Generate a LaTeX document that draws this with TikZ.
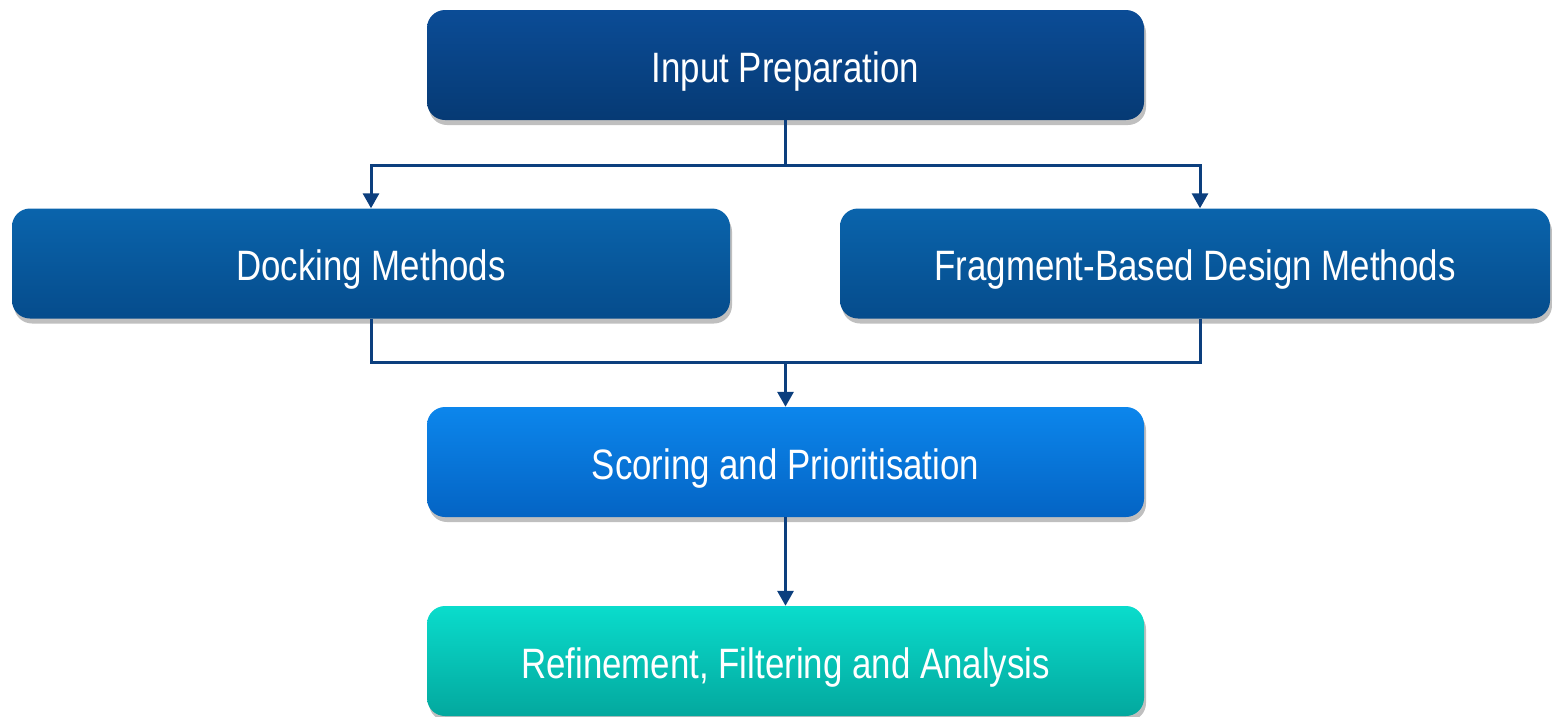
\documentclass[tikz,border=0pt]{standalone}
\usepackage{fontspec}
\setmainfont{Liberation Sans}[FakeStretch=0.82]
\usepackage{tikz}
\usetikzlibrary{calc}
\usetikzlibrary{arrows.meta}
\usetikzlibrary{shadows}

\definecolor{navytop}{HTML}{0B4C96}
\definecolor{navybot}{HTML}{063A74}
\definecolor{midtop}{HTML}{0A64AC}
\definecolor{midbot}{HTML}{054C8C}
\definecolor{skytop}{HTML}{0C86EC}
\definecolor{skybot}{HTML}{0464C4}
\definecolor{tealtop}{HTML}{0ADCCC}
\definecolor{tealbot}{HTML}{03A89E}
\definecolor{linkcol}{HTML}{0C3F7E}

\begin{document}
\begin{tikzpicture}[x=1pt,y=1pt]
    \tikzset{stage/.style={rounded corners=18pt, minimum height=110pt, text=white,
        font=\fontsize{42.5}{46}\selectfont, inner sep=0pt, text height=34pt, text depth=0pt,
        drop shadow={shadow xshift=2pt, shadow yshift=-5pt, opacity=0.25, fill=black}},
        link/.style={draw=linkcol, line width=3pt},
        arr/.style={link, -{Triangle[width=16pt,length=15pt]}}}

    \useasboundingbox (0,0) rectangle (1552,-716);

    %boxes
    \node[stage, minimum width=717pt, top color=navytop, bottom color=navybot] (input) at (785.5,-65) {Input Preparation};
    \node[stage, minimum width=718pt, top color=midtop, bottom color=midbot] (dock) at (371,-263.5) {Docking Methods};
    \node[stage, minimum width=710pt, top color=midtop, bottom color=midbot] (frag) at (1195,-263.5) {Fragment-Based Design Methods};
    \node[stage, minimum width=717pt, top color=skytop, bottom color=skybot] (score) at (785.5,-462) {Scoring and Prioritisation};
    \node[stage, minimum width=717pt, top color=tealtop, bottom color=tealbot] (refine) at (785.5,-661) {Refinement, Filtering and Analysis};

    \coordinate (split) at ($(input.south)+(0,-45)$);
    \coordinate (merge) at ($(score.north)+(0,44)$);

    %fan out
    \draw[link] (input.south) -- (split);
    \draw[arr] (split) -| (dock.north);
    \draw[arr] (split) -| ($(frag.north)+(5,0)$);

    %fan in
    \draw[link] (dock.south) |- (merge);
    \draw[link] ($(frag.south)+(5,0)$) |- (merge);
    \draw[arr] (merge) -- (score.north);

    \draw[arr] (score.south) -- (refine.north);
\end{tikzpicture}
\end{document}
